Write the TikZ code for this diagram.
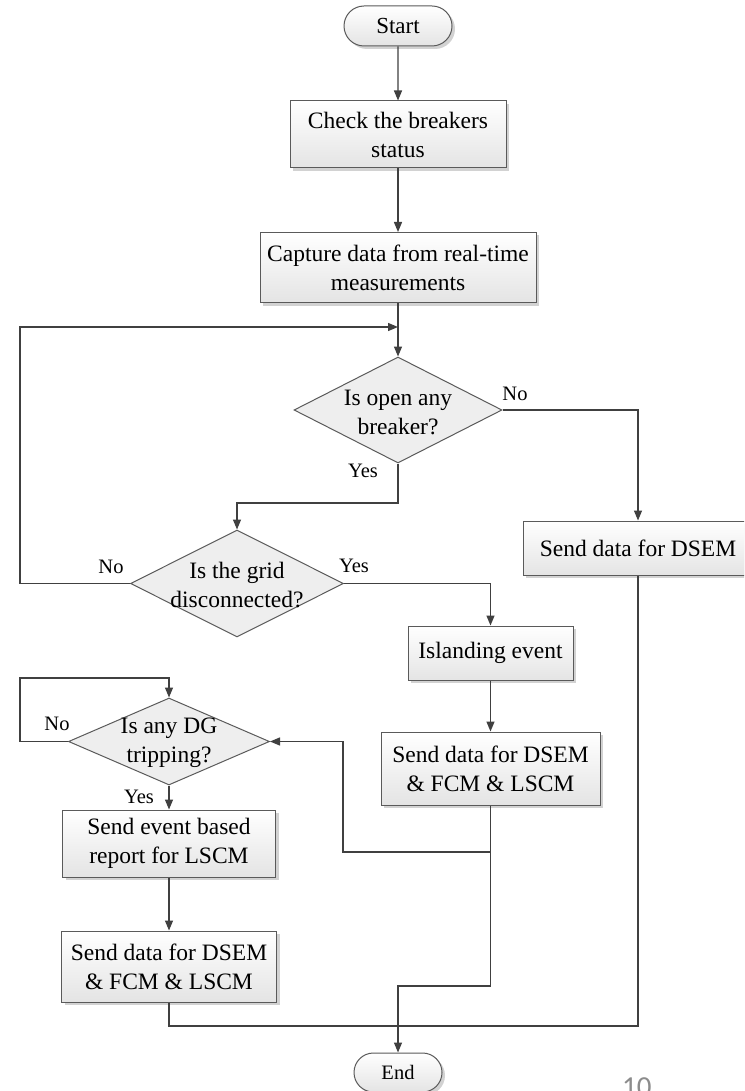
\documentclass[tikz,border=0pt]{standalone}
\usepackage{fontspec}
\setmainfont{Liberation Serif}
\newfontfamily\pagenumfont{Carlito}
\usetikzlibrary{shapes.geometric,shapes.misc,arrows.meta,shadows}

\definecolor{linegray}{HTML}{404040}
\definecolor{edgegray}{HTML}{5A5A5A}
\definecolor{shadegray}{HTML}{E4E4E4}
\definecolor{diamondfill}{HTML}{EEEEEE}
\definecolor{shadowgray}{HTML}{D2D2D2}
\definecolor{pagegray}{HTML}{8C8C8C}

\begin{document}
\begin{tikzpicture}[x=1pt,y=-1pt,
  line/.style={draw=linegray, line width=1.3pt},
  arr/.style={line, -{Triangle[length=10pt,width=8pt]}},
  softshadow/.style={drop shadow={shadow xshift=3pt, shadow yshift=-3pt, fill=shadowgray, opacity=1}},
  procbox/.style={rectangle, draw=edgegray, line width=1pt, top color=white, bottom color=shadegray,
    inner sep=0pt, align=center, font=\fontsize{23.5pt}{29pt}\selectfont, softshadow},
  terminal/.style={rounded rectangle, draw=edgegray, line width=1pt, top color=white, bottom color=shadegray,
    inner sep=0pt, softshadow},
  decision/.style={diamond, draw=edgegray, line width=1pt, fill=diamondfill, inner sep=0pt},
  decisiontext/.style={align=center, inner sep=0pt, font=\fontsize{23.5pt}{29pt}\selectfont},
  answer/.style={inner sep=0pt, font=\fontsize{20.5pt}{24pt}\selectfont},
]
\clip (0,0) rectangle (744,1091);
\fill[white] (0,0) rectangle (744,1091);

% terminals
\node[terminal, minimum width=108pt, minimum height=40pt, font=\fontsize{23pt}{28pt}\selectfont] (start) at (398,26) {Start};
\node[terminal, minimum width=88pt, minimum height=39pt, font=\fontsize{20.5pt}{24pt}\selectfont] (stop) at (398,1072.5) {End};

% process boxes
\node[procbox, minimum width=216pt, minimum height=67pt] (check) at (398,134.5) {Check the breakers\\status};
\node[procbox, minimum width=276pt, minimum height=70pt] (capture) at (398,267.5) {Capture data from real-time\\measurements};
\node[procbox, minimum width=230pt, minimum height=54pt] (dsem) at (638,548) {Send data for DSEM};
\node[procbox, minimum width=165pt, minimum height=54pt] (island) at (490.5,653) {Islanding event};
\node[procbox, minimum width=219pt, minimum height=73pt] (sendall) at (490.5,768.5) {Send data for DSEM\\\& FCM \& LSCM};
\node[procbox, minimum width=213pt, minimum height=67pt] (report) at (169,843.5) {Send event based\\report for LSCM};
\node[procbox, minimum width=215pt, minimum height=71pt] (sendlast) at (169,966.5) {Send data for DSEM\\\& FCM \& LSCM};

% decisions
\node[decision, minimum width=208pt, minimum height=106pt] (open) at (398,410) {};
\node[decisiontext] (opentxt) at (398,412) {Is open any\\breaker?};
\node[decision, minimum width=213pt, minimum height=107pt] (grid) at (237,583.5) {};
\node[decisiontext] (gridtxt) at (237,585) {Is the grid\\disconnected?};
\node[decision, minimum width=201pt, minimum height=87pt] (trip) at (169,741.5) {};
\node[decisiontext] (triptxt) at (169,743) {Is any DG\\tripping?};

% corner points of the routed connectors
\coordinate (join) at (398,327);
\coordinate (loopleft) at (20,327);
\coordinate (yesbend) at (237,503);
\coordinate (backbend) at (343,852);
\coordinate (endbend) at (398,986);
\coordinate (triploop) at (20,678);
\coordinate (bottomright) at (638,1026);

% main column
\draw[arr] (start) -- (check);
\draw[arr] (check) -- (capture);
\draw[arr] (capture) -- (open);

% first decision
\draw[arr] (open.east) -| (dsem.north);
\draw[arr] (open.south) |- (yesbend) -- (grid.north);

% second decision
\draw[arr] (grid.west) -| (loopleft) -- (join);
\draw[arr] (grid.east) -| (island.north);
\draw[arr] (island) -- (sendall);

% islanding branch
\draw[arr] (sendall.south) |- (backbend) |- (trip.east);
\draw[arr] (sendall.south) |- (endbend) -- (stop.north);

% third decision
\draw[arr] (trip.west) -| (triploop) -| (trip.north);
\draw[arr] (trip) -- (report);
\draw[arr] (report) -- (sendlast);
\draw[line] (sendlast.south) |- (bottomright) -- (dsem.south);

% answer labels
\node[answer] (no1) at (515,394) {No};
\node[answer] (yes1) at (363,471) {Yes};
\node[answer] (no2) at (111,567) {No};
\node[answer] (yes2) at (354,566) {Yes};
\node[answer] (no3) at (57,724) {No};
\node[answer] (yes3) at (139,797) {Yes};

% page number
\node[anchor=base west, inner sep=0pt, text=pagegray, font=\pagenumfont\fontsize{29pt}{32pt}\selectfont] (pagenum) at (622,1096) {10};
\end{tikzpicture}
\end{document}
